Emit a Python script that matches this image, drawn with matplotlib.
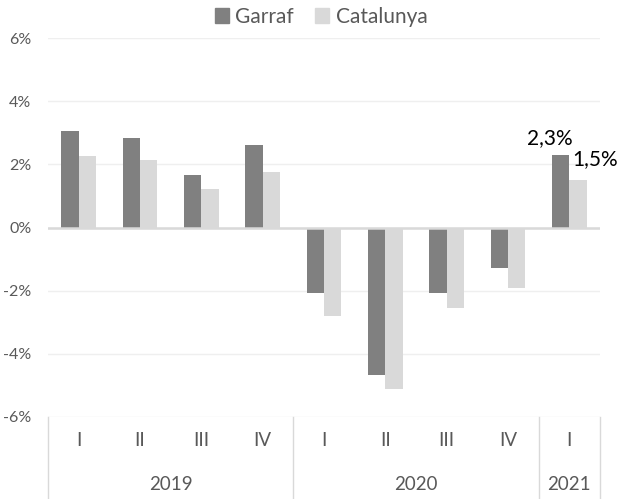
import matplotlib
matplotlib.use("Agg")
import matplotlib.pyplot as plt
from matplotlib.patches import Patch
import matplotlib.transforms as mtransforms
import numpy as np

plt.rcParams["font.family"] = ["Lato", "DejaVu Sans"]

quarters = ["I", "II", "III", "IV", "I", "II", "III", "IV", "I"]
years = ["2019", "2020", "2021"]
year_sizes = [4, 4, 1]
garraf = [3.06, 2.84, 1.65, 2.61, -2.08, -4.67, -2.06, -1.27, 2.3]
catalunya = [2.25, 2.14, 1.23, 1.75, -2.8, -5.1, -2.55, -1.92, 1.5]

c_garraf = "#808080"
c_cat = "#d9d9d9"
txt = "#595959"

fig = plt.figure(figsize=(6.2, 4.99), dpi=100)
ax = fig.add_axes([48 / 620, 82 / 499, 552 / 620, 379 / 499])

x = np.arange(len(quarters))
w = 0.28
ax.bar(x - w / 2, garraf, w, color=c_garraf, zorder=3)
ax.bar(x + w / 2, catalunya, w, color=c_cat, zorder=3)

ax.set_xlim(-0.5, len(quarters) - 0.5)
ax.set_ylim(-6, 6)
yt = np.arange(-6, 7, 2)
ax.set_yticks(yt)
ax.set_yticklabels([f"{v}%" for v in yt], color=txt, fontsize=11.5)
ax.tick_params(axis="y", length=0, pad=12)
ax.set_xticks([])
for v in yt:
    ax.axhline(v, color="#efefef", lw=1, zorder=1)
ax.axhline(0, color="#d9d9d9", lw=1.8, zorder=4)
for s in ax.spines.values():
    s.set_visible(False)

# labels for the last quarter
ax.annotate("2,3%", (x[-1] - w / 2, garraf[-1]), xytext=(-8, 5),
            textcoords="offset points", ha="center", va="bottom", fontsize=15)
ax.annotate("1,5%", (x[-1] + w / 2, catalunya[-1]), xytext=(-4, 8),
            textcoords="offset points", ha="left", va="bottom", fontsize=15)

# two-level category axis
trans = mtransforms.blended_transform_factory(ax.transData, fig.transFigure)
y_top = 82 / 499
for i, q in enumerate(quarters):
    ax.text(x[i], 58 / 499, q, transform=trans, ha="center", va="center",
            color=txt, fontsize=13.5, clip_on=False)
edges = np.concatenate([[0], np.cumsum(year_sizes)]) - 0.5
for e in edges:
    ax.plot([e, e], [0, y_top], transform=trans, color="#d9d9d9", lw=1,
            clip_on=False)
for yr, a, b in zip(years, edges[:-1], edges[1:]):
    ax.text((a + b) / 2, 14 / 499, yr, transform=trans, ha="center",
            va="center", color=txt, fontsize=13.5, clip_on=False)

handles = [Patch(color=c_garraf, label="Garraf"),
           Patch(color=c_cat, label="Catalunya")]
fig.legend(handles=handles, loc="center", bbox_to_anchor=(321 / 620, 1 - 17 / 499),
           ncol=2, frameon=False, fontsize=15, handlelength=0.7,
           handleheight=0.7, handletextpad=0.3, columnspacing=1.0,
           labelcolor=txt)

fig.savefig("out.png", dpi=100)
